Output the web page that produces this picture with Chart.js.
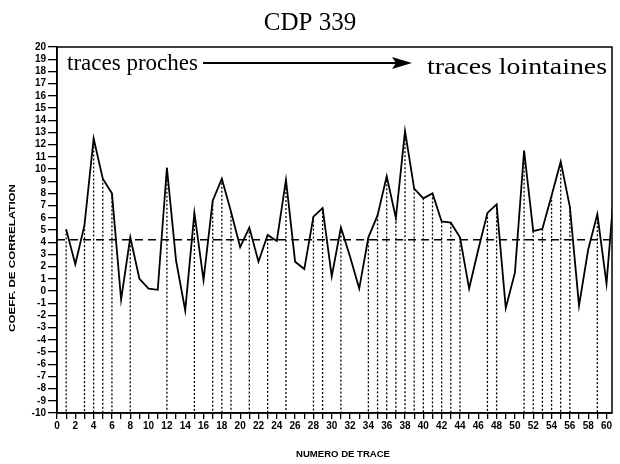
<!DOCTYPE html>
<html>
<head>
<meta charset="utf-8">
<script src="https://cdn.jsdelivr.net/npm/chart.js@4"></script>
<style>
  html,body{margin:0;padding:0;background:#fff;}
  #wrap{position:relative;width:620px;height:464px;}
</style>
</head>
<body>
<div id="wrap"><canvas id="myChart" width="620" height="464"></canvas></div>
<script>
// trace numbers and correlation coefficients
const traces = [1,2,3,4,5,6,7,8,9,10,11,12,13,14,15,16,17,18,19,20,
  21,22,23,24,25,26,27,28,29,30,31,32,33,34,35,36,37,38,39,40,
  41,42,43,44,45,46,47,48,49,50,51,52,53,54,55,56,57,58,59,60,61];
const coeffs = [5.05,2.2,5.4,12.5,9.2,8.0,-0.7,4.4,1.0,0.2,0.1,10.1,2.5,-1.6,6.4,0.9,7.4,9.2,6.5,3.6,
  5.2,2.4,4.6,4.1,9.1,2.4,1.8,6.1,6.8,1.2,5.2,2.8,0.2,4.4,6.2,9.4,6.0,13.1,8.4,7.6,
  8.0,5.7,5.6,4.4,0.2,3.4,6.4,7.1,-1.4,1.5,11.5,4.9,5.1,7.8,10.6,6.9,-1.2,3.4,6.3,0.6,9.9];
const meanValue = 4.2;
const xRange = [0, 60.6];
const yRange = [-10, 20];

const tickFont = {family:"'Liberation Sans'", size:10, weight:"bold"};

// draw text stretched to a given width
function fitText(ctx, text, x, y, width){
  const w = ctx.measureText(text).width;
  ctx.save();
  ctx.translate(x, y);
  ctx.scale(width / w, 1);
  ctx.textAlign = 'center';
  ctx.fillText(text, 0, 0);
  ctx.restore();
}

const decor = {
  id:'decor',
  beforeDatasetsDraw(chart){
    const {ctx, chartArea, scales:{x,y}} = chart;
    // dotted drops for traces above the mean
    ctx.save();
    ctx.beginPath();
    ctx.rect(chartArea.left, chartArea.top, chartArea.right-chartArea.left, chartArea.bottom-chartArea.top);
    ctx.clip();
    ctx.strokeStyle = '#000';
    ctx.lineWidth = 1.3;
    ctx.setLineDash([2,2]);
    traces.forEach((t,i)=>{
      if(coeffs[i] > meanValue){
        const px = x.getPixelForValue(t);
        ctx.beginPath();
        ctx.moveTo(px, y.getPixelForValue(coeffs[i]));
        ctx.lineTo(px, y.getPixelForValue(yRange[0]));
        ctx.stroke();
      }
    });
    ctx.restore();
  },
  afterDraw(chart){
    const {ctx, chartArea} = chart;
    ctx.save();
    ctx.strokeStyle = '#000';
    ctx.lineWidth = 1.5;
    ctx.strokeRect(chartArea.left, chartArea.top, chartArea.right-chartArea.left, chartArea.bottom-chartArea.top);

    ctx.fillStyle = '#000';
    ctx.textBaseline = 'alphabetic';
    ctx.textAlign = 'center';
    ctx.font = "25px 'Liberation Serif'";
    ctx.fillText('CDP 339', 310, 30);

    ctx.textAlign = 'left';
    ctx.font = "23px 'Liberation Serif'";
    ctx.fillText('traces proches', 67, 70);
    ctx.font = "24px 'Liberation Serif'";
    fitText(ctx, 'traces lointaines', 517, 74, 180);

    // arrow
    ctx.lineWidth = 2;
    ctx.beginPath();
    ctx.moveTo(203, 63);
    ctx.lineTo(396, 63);
    ctx.stroke();
    ctx.beginPath();
    ctx.moveTo(412, 63);
    ctx.lineTo(392, 57);
    ctx.lineTo(396, 63);
    ctx.lineTo(392, 69);
    ctx.closePath();
    ctx.fill();

    // axis titles
    ctx.font = "bold 9px 'Liberation Sans'";
    fitText(ctx, 'NUMERO DE TRACE', 343, 457, 94);
    ctx.translate(15, 258);
    ctx.rotate(-Math.PI/2);
    fitText(ctx, 'COEFF. DE CORRELATION', 0, 0, 148);
    ctx.restore();
  }
};

const ctx = document.getElementById('myChart').getContext('2d');
const myChart = new Chart(ctx, {
  type:'line',
  data:{
    datasets:[
      {
        label:'coeff',
        data: traces.map((t,i)=>({x:t, y:coeffs[i]})),
        borderColor:'#000',
        borderWidth:1.8,
        pointRadius:0,
        tension:0,
      },
      {
        label:'moyenne',
        data:[{x:xRange[0], y:meanValue},{x:xRange[1], y:meanValue}],
        borderColor:'#000',
        borderWidth:1.7,
        borderDash:[8,5],
        pointRadius:0,
      },
    ],
  },
  options:{
    responsive:false,
    animation:false,
    layout:{padding:{left:0, right:8, top:47, bottom:0}},
    plugins:{legend:{display:false}, title:{display:false}, tooltip:{enabled:false}},
    scales:{
      x:{
        type:'linear',
        min:xRange[0],
        max:xRange[1],
        afterFit(scale){ scale.height = 51; },
        afterBuildTicks(scale){
          const ticks = [];
          for(let v=0; v<=60; v++) ticks.push({value:v});
          scale.ticks = ticks;
        },
        ticks:{
          autoSkip:false,
          maxRotation:0,
          color:'#000',
          font:tickFont,
          padding:1,
          callback:(v)=> v%2===0 ? String(v) : '',
        },
        grid:{drawOnChartArea:false, drawTicks:true, tickLength:6, color:'#000', lineWidth:1.3},
        border:{display:true, color:'#000', width:1.5},
      },
      y:{
        min:yRange[0],
        max:yRange[1],
        afterFit(scale){ scale.width = 57; },
        ticks:{
          stepSize:1,
          autoSkip:false,
          color:'#000',
          font:tickFont,
          padding:2,
        },
        grid:{drawOnChartArea:false, drawTicks:true, tickLength:9, color:'#000', lineWidth:1.3},
        border:{display:true, color:'#000', width:1.5},
      },
    },
  },
  plugins:[decor],
});
</script>
</body>
</html>
